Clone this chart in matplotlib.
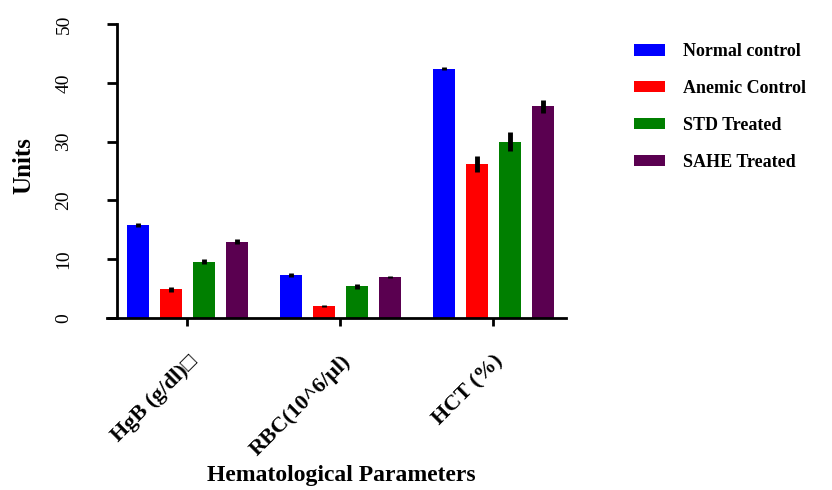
import matplotlib
matplotlib.use("Agg")
import matplotlib.pyplot as plt
import numpy as np

categories = ["HgB (g/dl)\u25a1", "RBC(10^6/\u00b5l)", "HCT (%)"]
series = ["Normal control", "Anemic Control", "STD Treated", "SAHE Treated"]
normal = [15.8, 7.3, 42.4]
anemic = [4.9, 2.0, 26.2]
std = [9.6, 5.4, 30.0]
sahe = [13.0, 7.0, 36.0]
normal_err = [0.3, 0.4, 0.3]
anemic_err = [0.4, 0.2, 1.4]
std_err = [0.4, 0.4, 1.6]
sahe_err = [0.4, 0.2, 1.1]
colors = ["#0000ff", "#ff0000", "#007f00", "#5a0050"]

plt.rcParams['font.family'] = ['Liberation Serif', 'DejaVu Sans']

fig = plt.figure(figsize=(8.32, 4.9), dpi=100)
ax = fig.add_axes([107/832, 1-318/490, (566-107)/832, (318-24)/490])

x = np.arange(len(categories))
step = 0.216
width = 0.14
vals = [normal, anemic, std, sahe]
errs = [normal_err, anemic_err, std_err, sahe_err]
handles = []
for i, (v, e, c, lab) in enumerate(zip(vals, errs, colors, series)):
    b = ax.bar(x + (i - 1.5) * step, v, width, color=c, label=lab,
               yerr=e, error_kw=dict(ecolor='black', elinewidth=3.5, capsize=0), zorder=2)
    handles.append(b)

ax.set_xlim(-0.526, 2.474)
ax.set_ylim(0, 50)
ax.spines['top'].set_visible(False)
ax.spines['right'].set_visible(False)
ax.spines['left'].set_position(('data', -0.461))
ax.spines['left'].set_linewidth(2)
ax.spines['bottom'].set_linewidth(2)
ax.set_yticks([0, 10, 20, 30, 40, 50])
ax.tick_params(axis='y', width=2, length=7, labelsize=14, labelrotation=90, pad=25)
ax.tick_params(axis='x', width=2, length=6, pad=18)
for t in ax.get_yticklabels():
    t.set_va('center')
ax.set_xticks(x)
ax.set_xticklabels(categories, rotation=45, ha='right', rotation_mode='anchor',
                   fontsize=16, fontweight='bold')
ax.set_ylabel("Units", fontsize=18, fontweight='bold', va='center')
ax.yaxis.set_label_coords((24 - 107) / 459, (318 - 166) / 294)
ax.set_xlabel("Hematological Parameters", fontsize=17, fontweight='bold', va='center')
ax.xaxis.set_label_coords((341 - 107) / 459, (318 - 475) / 294)

leg = fig.legend(handles=handles, labels=series, loc='upper left',
                 bbox_to_anchor=(618/832, 1-27/490), frameon=False,
                 prop=dict(family=['Liberation Serif'], weight='bold', size=13),
                 handlelength=1.7, handleheight=0.6, labelspacing=1.1, handletextpad=1.0)

fig.savefig("out.png", dpi=100)
